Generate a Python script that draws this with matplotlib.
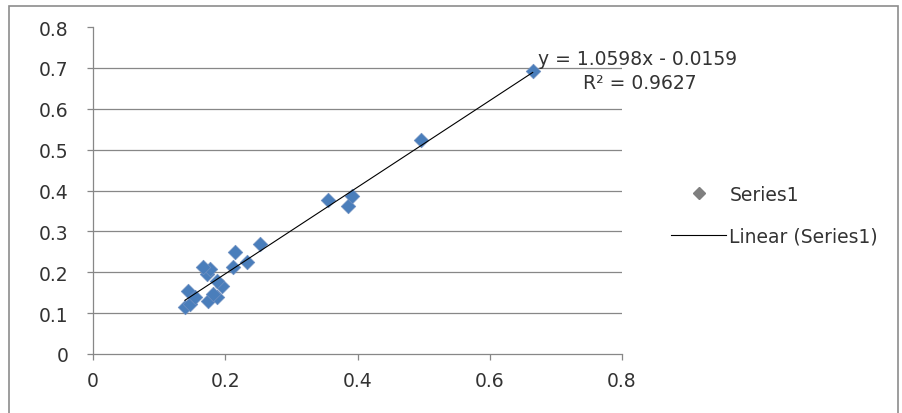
import matplotlib.pyplot as plt
from matplotlib.lines import Line2D
from matplotlib.patches import Rectangle
import numpy as np

plt.rcParams['font.family'] = ['DejaVu Sans']

# valores
x = [0.139, 0.147, 0.144, 0.154, 0.174, 0.187, 0.182, 0.195, 0.187, 0.172,
     0.177, 0.166, 0.212, 0.233, 0.215, 0.253, 0.356, 0.386, 0.392, 0.496, 0.665]
y = [0.115, 0.122, 0.154, 0.139, 0.130, 0.139, 0.147, 0.166, 0.179, 0.196,
     0.208, 0.213, 0.213, 0.225, 0.249, 0.269, 0.377, 0.362, 0.386, 0.523, 0.692]

slope = 1.0598
inter = -0.0159
r2 = 0.9627

xticks = [0, 0.2, 0.4, 0.6, 0.8]
yticks = [0, 0.1, 0.2, 0.3, 0.4, 0.5, 0.6, 0.7, 0.8]

fig = plt.figure(figsize=(9.03, 4.14), dpi=100)
ax = fig.add_axes([93/903, (414-355)/414, (622-93)/903, (355-28)/414])

# borda externa
fig.patches.append(Rectangle((9/903, -0.1), (898-9)/903, 1.1 - 7/414,
                             transform=fig.transFigure, fill=False,
                             edgecolor='#8c8c8c', linewidth=1.2))

for yy in yticks[1:-1]:
    ax.axhline(yy, color='#878787', linewidth=0.9, zorder=1)

ax.scatter(x, y, marker='D', s=55, color='#4a7ebb', edgecolors='#6f8fc0',
           linewidths=0.5, zorder=3)

xl = np.array([min(x), max(x)])
ax.plot(xl, slope*xl + inter, color='black', linewidth=0.8, zorder=4)

ax.text(0.673, 0.722, 'y = %.4fx - %.4f' % (slope, -inter), fontsize=13.5,
        color='#333333', ha='left', va='center')
ax.text(0.741, 0.663, 'R² = %.4f' % r2, fontsize=13.5, color='#333333',
        ha='left', va='center')

ax.set_xlim(0, 0.8)
ax.set_ylim(0, 0.8)
ax.set_xticks(xticks)
ax.set_xticklabels(['0', '0.2', '0.4', '0.6', '0.8'])
ax.set_yticks(yticks)
ax.set_yticklabels(['0', '0.1', '0.2', '0.3', '0.4', '0.5', '0.6', '0.7', '0.8'])
ax.tick_params(axis='both', direction='out', length=4.5, width=0.9,
               color='#878787', labelsize=13.5, labelcolor='#333333')
ax.tick_params(axis='y', pad=13)
ax.tick_params(axis='x', pad=8)
for s in ['top', 'right']:
    ax.spines[s].set_visible(False)
for s in ['left', 'bottom']:
    ax.spines[s].set_color('#878787')
    ax.spines[s].set_linewidth(0.9)

handles = [Line2D([], [], marker='D', linestyle='none', color='#7f7f7f',
                  markersize=6),
           Line2D([], [], color='black', linewidth=0.8)]
fig.legend(handles, ['Series1', 'Linear (Series1)'], loc='center left',
           bbox_to_anchor=(662/903, 1 - 216/414), frameon=False, fontsize=13.5,
           labelcolor='#333333', handlelength=2.9, handletextpad=0.2,
           labelspacing=1.2, borderpad=0)

fig.savefig('out.png', dpi=100)
